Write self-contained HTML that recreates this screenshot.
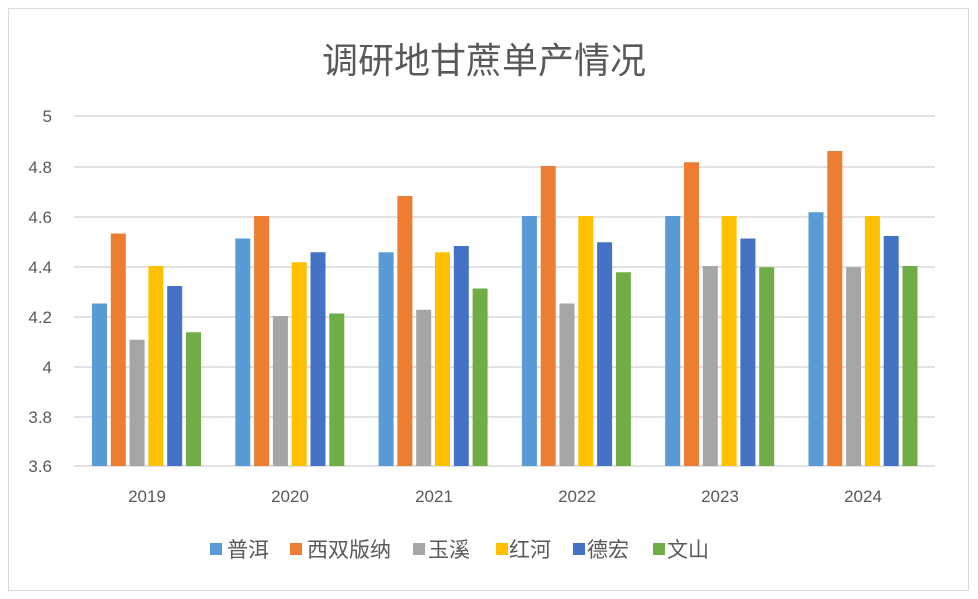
<!DOCTYPE html>
<html><head><meta charset="utf-8"><style>
html,body{margin:0;padding:0;background:#fff;}
svg{display:block;font-family:"Liberation Sans","Noto Sans CJK SC",sans-serif;}
</style></head><body>
<svg width="978" height="599" viewBox="0 0 978 599">
<rect x="0" y="0" width="978" height="599" fill="#fff"/>
<rect x="8.5" y="8.5" width="960" height="582" fill="none" stroke="#d9d9d9"/>
<text x="484" y="73" font-size="36" fill="#595959" text-anchor="middle">调研地甘蔗单产情况</text>
<g stroke="#d9d9d9" stroke-width="1.5">
<line x1="74" x2="935" y1="116" y2="116"/>
<line x1="74" x2="935" y1="167" y2="167"/>
<line x1="74" x2="935" y1="217" y2="217"/>
<line x1="74" x2="935" y1="267" y2="267"/>
<line x1="74" x2="935" y1="317" y2="317"/>
<line x1="74" x2="935" y1="367" y2="367"/>
<line x1="74" x2="935" y1="417" y2="417"/>
<line x1="74" x2="935" y1="466" y2="466"/>
</g>
<g font-size="17" fill="#595959" text-anchor="end">
<text x="52" y="122">5</text>
<text x="52" y="173">4.8</text>
<text x="52" y="223">4.6</text>
<text x="52" y="273">4.4</text>
<text x="52" y="323">4.2</text>
<text x="52" y="373">4</text>
<text x="52" y="423">3.8</text>
<text x="52" y="472">3.6</text>
</g>
<g>
<rect x="92" y="303.5" width="15" height="162.5" fill="#5B9BD5"/>
<rect x="110.8" y="233.5" width="15" height="232.5" fill="#ED7D31"/>
<rect x="129.6" y="339.75" width="15" height="126.25" fill="#A5A5A5"/>
<rect x="148.4" y="266" width="15" height="200" fill="#FFC000"/>
<rect x="167.2" y="286" width="15" height="180" fill="#4472C4"/>
<rect x="186" y="332.25" width="15" height="133.75" fill="#70AD47"/>

<rect x="235.3" y="238.5" width="15" height="227.5" fill="#5B9BD5"/>
<rect x="254.1" y="216" width="15" height="250" fill="#ED7D31"/>
<rect x="272.9" y="316" width="15" height="150" fill="#A5A5A5"/>
<rect x="291.7" y="262.25" width="15" height="203.75" fill="#FFC000"/>
<rect x="310.5" y="252.25" width="15" height="213.75" fill="#4472C4"/>
<rect x="329.3" y="313.5" width="15" height="152.5" fill="#70AD47"/>

<rect x="378.6" y="252.25" width="15" height="213.75" fill="#5B9BD5"/>
<rect x="397.4" y="196" width="15" height="270" fill="#ED7D31"/>
<rect x="416.2" y="309.75" width="15" height="156.25" fill="#A5A5A5"/>
<rect x="435" y="252.25" width="15" height="213.75" fill="#FFC000"/>
<rect x="453.8" y="246" width="15" height="220" fill="#4472C4"/>
<rect x="472.6" y="288.5" width="15" height="177.5" fill="#70AD47"/>

<rect x="521.9" y="216" width="15" height="250" fill="#5B9BD5"/>
<rect x="540.7" y="166" width="15" height="300" fill="#ED7D31"/>
<rect x="559.5" y="303.5" width="15" height="162.5" fill="#A5A5A5"/>
<rect x="578.3" y="216" width="15" height="250" fill="#FFC000"/>
<rect x="597.1" y="242.25" width="15" height="223.75" fill="#4472C4"/>
<rect x="615.9" y="272.25" width="15" height="193.75" fill="#70AD47"/>

<rect x="665.2" y="216" width="15" height="250" fill="#5B9BD5"/>
<rect x="684" y="162.25" width="15" height="303.75" fill="#ED7D31"/>
<rect x="702.8" y="266" width="15" height="200" fill="#A5A5A5"/>
<rect x="721.6" y="216" width="15" height="250" fill="#FFC000"/>
<rect x="740.4" y="238.5" width="15" height="227.5" fill="#4472C4"/>
<rect x="759.2" y="267.25" width="15" height="198.75" fill="#70AD47"/>

<rect x="808.5" y="212.25" width="15" height="253.75" fill="#5B9BD5"/>
<rect x="827.3" y="151" width="15" height="315" fill="#ED7D31"/>
<rect x="846.1" y="267.25" width="15" height="198.75" fill="#A5A5A5"/>
<rect x="864.9" y="216" width="15" height="250" fill="#FFC000"/>
<rect x="883.7" y="236" width="15" height="230" fill="#4472C4"/>
<rect x="902.5" y="266" width="15" height="200" fill="#70AD47"/>
</g>
<g font-size="17" fill="#595959" text-anchor="middle">
<text x="147" y="502">2019</text>
<text x="290" y="502">2020</text>
<text x="434" y="502">2021</text>
<text x="577" y="502">2022</text>
<text x="720" y="502">2023</text>
<text x="863" y="502">2024</text>
</g>
<g font-size="21" fill="#595959">
<rect x="210" y="543" width="12" height="12" fill="#5B9BD5"/><text x="227" y="557">普洱</text>
<rect x="290" y="543" width="12" height="12" fill="#ED7D31"/><text x="307" y="557">西双版纳</text>
<rect x="413" y="543" width="12" height="12" fill="#A5A5A5"/><text x="428" y="557">玉溪</text>
<rect x="496" y="543" width="12" height="12" fill="#FFC000"/><text x="509" y="557">红河</text>
<rect x="573" y="543" width="12" height="12" fill="#4472C4"/><text x="587" y="557">德宏</text>
<rect x="653" y="543" width="12" height="12" fill="#70AD47"/><text x="667" y="557">文山</text>
</g>
</svg>
</body></html>
